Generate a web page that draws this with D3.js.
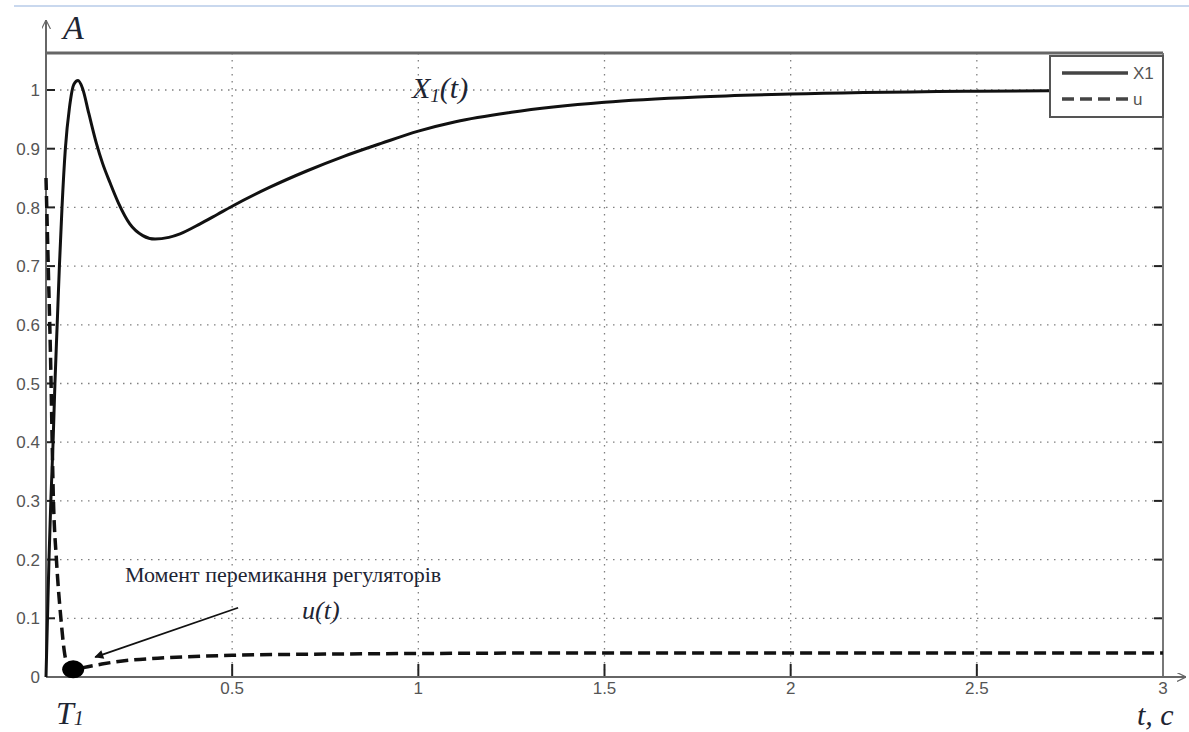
<!DOCTYPE html>
<html lang="uk">
<head>
<meta charset="utf-8">
<title>X1(t), u(t)</title>
<style>
  body { margin: 0; background: #fff; }
  svg { display: block; }
</style>
</head>
<body>
<div id="chart"></div>
<script src="https://d3js.org/d3.v7.min.js"></script>
<script>
// tick values
var tTicks = [0, 0.5, 1, 1.5, 2, 2.5, 3];
var tLabels = ['', '0.5', '1', '1.5', '2', '2.5', '3'];
var aTicks = [0, 0.1, 0.2, 0.3, 0.4, 0.5, 0.6, 0.7, 0.8, 0.9, 1];
var aLabels = ['0', '0.1', '0.2', '0.3', '0.4', '0.5', '0.6', '0.7', '0.8', '0.9', '1'];

// X1(t)
var x1Time = [0, 0.004, 0.008, 0.013, 0.019, 0.024, 0.030, 0.036, 0.043, 0.052, 0.063, 0.075, 0.086, 0.098, 0.115, 0.135, 0.152, 0.172, 0.195, 0.225, 0.26, 0.293, 0.33, 0.36, 0.414, 0.46, 0.5, 0.6, 0.7, 0.8, 0.9, 1.0, 1.1, 1.25, 1.5, 1.75, 2.0, 2.5, 3.0];
var x1Val  = [0, 0.10, 0.20, 0.30, 0.40, 0.50, 0.60, 0.70, 0.80, 0.90, 0.97, 1.010, 1.016, 1.003, 0.96, 0.91, 0.875, 0.842, 0.807, 0.772, 0.752, 0.746, 0.749, 0.755, 0.772, 0.788, 0.802, 0.834, 0.862, 0.887, 0.909, 0.930, 0.946, 0.962, 0.979, 0.988, 0.993, 0.998, 1.0];

// u(t)
var uTime = [0, 0.006, 0.012, 0.02, 0.028, 0.04, 0.05, 0.062, 0.073, 0.10, 0.15, 0.2, 0.3, 0.5, 0.75, 1.0, 1.5, 2.0, 3.0];
var uVal  = [0.85, 0.70, 0.55, 0.30, 0.20, 0.10, 0.04, 0.015, 0.012, 0.016, 0.022, 0.027, 0.032, 0.037, 0.039, 0.040, 0.041, 0.041, 0.041];

// annotation anchors, in data units
var switchPoint = {t: 0.073, a: 0.013};
var arrowFrom = {t: 0.516, a: 0.118};
var arrowTo = {t: 0.132, a: 0.034};

var legendNames = ['X1', 'u'];

var width = 1189, height = 732;
var x = d3.scaleLinear().domain([0, 3]).range([46, 1163]);
var y = d3.scaleLinear().domain([0, 1]).range([677, 90]);
var yTop = 1.063;
var sans = 'Liberation Sans, Arial, sans-serif';
var serif = 'Liberation Serif, Times New Roman, serif';
var ink = '#1e2533';

var svg = d3.select('#chart').append('svg')
  .attr('width', width).attr('height', height);

var defs = svg.append('defs');
defs.append('marker')
  .attr('id', 'head')
  .attr('viewBox', '0 0 10 10')
  .attr('refX', 9).attr('refY', 5)
  .attr('markerWidth', 11).attr('markerHeight', 9)
  .attr('markerUnits', 'userSpaceOnUse')
  .attr('orient', 'auto')
  .append('path').attr('d', 'M0,0L10,5L0,10Z').attr('fill', '#111');
defs.append('marker')
  .attr('id', 'axhead')
  .attr('viewBox', '0 0 10 10')
  .attr('refX', 10).attr('refY', 5)
  .attr('markerWidth', 9).attr('markerHeight', 9)
  .attr('markerUnits', 'userSpaceOnUse')
  .attr('orient', 'auto')
  .append('path').attr('d', 'M0,0L10,5L0,10').attr('fill', 'none').attr('stroke', '#666').attr('stroke-width', 1.3);

// thin blue rule at the very top
svg.append('line')
  .attr('x1', 14).attr('x2', width).attr('y1', 6).attr('y2', 6)
  .attr('stroke', '#c9d8ee').attr('stroke-width', 2);

// grid
var grid = svg.append('g').attr('stroke', '#808080').attr('stroke-width', 1.3)
  .attr('stroke-dasharray', '1.5,5.5');
grid.selectAll('.gx').data(tTicks.slice(1, -1)).enter().append('line')
  .attr('x1', function(d) { return x(d); }).attr('x2', function(d) { return x(d); })
  .attr('y1', y(yTop)).attr('y2', y(0));
grid.selectAll('.gy').data(aTicks.slice(1)).enter().append('line')
  .attr('x1', x(0)).attr('x2', x(3))
  .attr('y1', function(d) { return y(d); }).attr('y2', function(d) { return y(d); });

// tick marks, pointing into the plot
var ticks = svg.append('g').attr('stroke', '#222').attr('stroke-width', 2);
ticks.selectAll('.tl').data(aTicks).enter().append('line')
  .attr('x1', x(0)).attr('x2', x(0) + 9)
  .attr('y1', function(d) { return y(d); }).attr('y2', function(d) { return y(d); });
ticks.selectAll('.tr').data(aTicks).enter().append('line')
  .attr('x1', x(3)).attr('x2', x(3) - 9)
  .attr('y1', function(d) { return y(d); }).attr('y2', function(d) { return y(d); });
ticks.selectAll('.tb').data(tTicks).enter().append('line')
  .attr('x1', function(d) { return x(d); }).attr('x2', function(d) { return x(d); })
  .attr('y1', y(0)).attr('y2', y(0) - 13);

// tick labels
svg.selectAll('.ylab').data(aTicks).enter().append('text')
  .attr('font-family', sans).attr('font-size', 17).attr('fill', '#555')
  .attr('x', x(0) - 6).attr('y', function(d) { return y(d); })
  .attr('dy', '0.36em').attr('text-anchor', 'end')
  .text(function(d, i) { return aLabels[i]; });
svg.selectAll('.xlab').data(tTicks).enter().append('text')
  .attr('font-family', sans).attr('font-size', 17).attr('fill', '#555')
  .attr('x', function(d) { return x(d); }).attr('y', y(0) + 17)
  .attr('text-anchor', 'middle')
  .text(function(d, i) { return tLabels[i]; });

// frame
svg.append('line').attr('x1', x(0)).attr('x2', x(3)).attr('y1', y(yTop)).attr('y2', y(yTop))
  .attr('stroke', '#666').attr('stroke-width', 3);
svg.append('line').attr('x1', x(3)).attr('x2', x(3)).attr('y1', y(yTop)).attr('y2', y(0))
  .attr('stroke', '#777').attr('stroke-width', 2);
svg.append('line').attr('x1', x(0)).attr('x2', x(0)).attr('y1', y(0)).attr('y2', 20)
  .attr('stroke', '#666').attr('stroke-width', 2).attr('marker-end', 'url(#axhead)');
svg.append('line').attr('x1', x(0)).attr('x2', 1186).attr('y1', y(0)).attr('y2', y(0))
  .attr('stroke', '#666').attr('stroke-width', 2).attr('marker-end', 'url(#axhead)');

// curves
var line = d3.line()
  .x(function(d) { return x(d[0]); })
  .y(function(d) { return y(d[1]); })
  .curve(d3.curveMonotoneX);

svg.append('path')
  .datum(d3.zip(uTime, uVal))
  .attr('d', line)
  .attr('fill', 'none').attr('stroke', '#111').attr('stroke-width', 3.5)
  .attr('stroke-dasharray', '12,6');

svg.append('path')
  .datum(d3.zip(x1Time, x1Val))
  .attr('d', line)
  .attr('fill', 'none').attr('stroke', '#111').attr('stroke-width', 3);

// switching moment
svg.append('ellipse')
  .attr('cx', x(switchPoint.t)).attr('cy', y(switchPoint.a))
  .attr('rx', 11).attr('ry', 9).attr('fill', '#000');

svg.append('line')
  .attr('x1', x(arrowFrom.t)).attr('y1', y(arrowFrom.a))
  .attr('x2', x(arrowTo.t)).attr('y2', y(arrowTo.a))
  .attr('stroke', '#111').attr('stroke-width', 1.8)
  .attr('marker-end', 'url(#head)');

// legend
var lg = svg.append('g').attr('transform', 'translate(1050,56)');
lg.append('rect').attr('width', 113).attr('height', 61)
  .attr('fill', '#fff').attr('stroke', '#555').attr('stroke-width', 2);
lg.selectAll('.item').data(legendNames).enter().append('g')
  .each(function(d, i) {
    var g = d3.select(this);
    g.append('line').attr('x1', 12).attr('x2', 78)
      .attr('y1', 17 + i * 26).attr('y2', 17 + i * 26)
      .attr('stroke', '#444').attr('stroke-width', 3.5)
      .attr('stroke-dasharray', i ? '12,6' : null);
    g.append('text').attr('x', 83).attr('y', 23 + i * 26)
      .attr('font-family', sans).attr('font-size', 17).attr('fill', '#555')
      .text(d);
  });

// labels
svg.append('text').attr('x', 63).attr('y', 39)
  .attr('font-family', serif).attr('fill', ink)
  .attr('font-size', 34).attr('font-style', 'italic').text('A');

var t1 = svg.append('text').attr('x', 56).attr('y', 724)
  .attr('font-family', serif).attr('fill', ink)
  .attr('font-size', 32).attr('font-style', 'italic');
t1.append('tspan').text('T');
t1.append('tspan').attr('font-size', 20).attr('dy', 1).text('1');

svg.append('text').attr('x', 1137).attr('y', 725)
  .attr('font-family', serif).attr('fill', ink)
  .attr('font-size', 30).attr('font-style', 'italic').text('t, c');

var xl = svg.append('text').attr('x', 412).attr('y', 98)
  .attr('font-family', serif).attr('fill', ink)
  .attr('font-size', 30).attr('font-style', 'italic');
xl.append('tspan').text('X');
xl.append('tspan').attr('font-size', 19).attr('dy', 4).text('1');
xl.append('tspan').attr('dy', -4).text('(t)');

svg.append('text').attr('x', 302).attr('y', 619)
  .attr('font-family', serif).attr('fill', ink)
  .attr('font-size', 26).attr('font-style', 'italic').text('u(t)');

svg.append('text').attr('x', 125).attr('y', 582)
  .attr('font-family', serif).attr('fill', ink)
  .attr('font-size', 22).text('Момент перемикання регуляторів');
</script>
</body>
</html>
